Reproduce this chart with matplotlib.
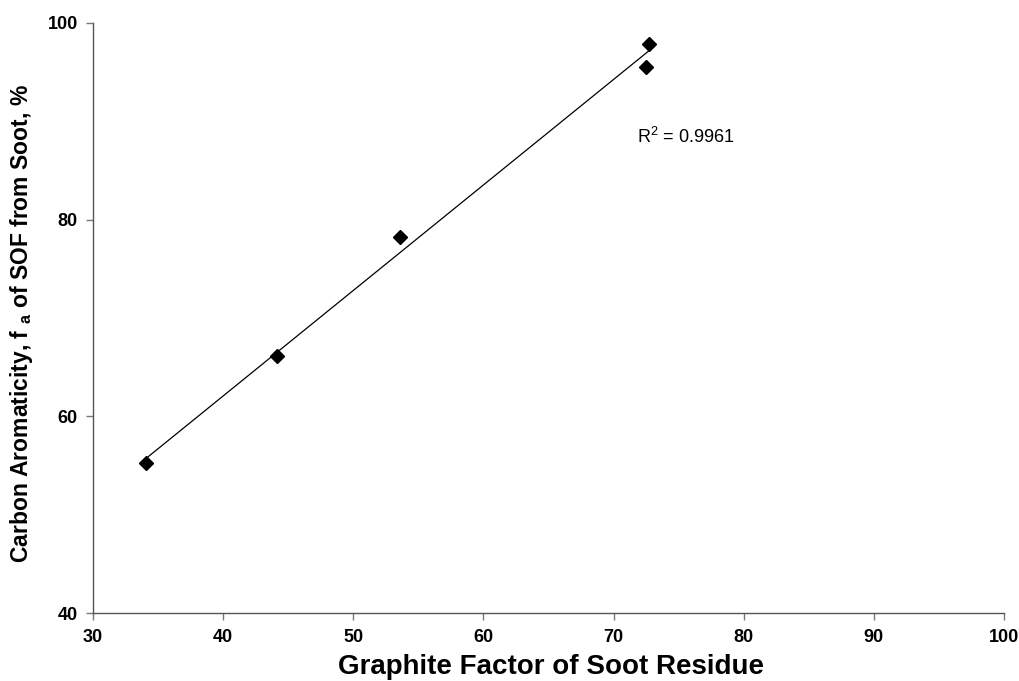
import numpy as np
import matplotlib
matplotlib.use("Agg")
import matplotlib.pyplot as plt

plt.rcParams['font.family'] = ['Liberation Sans', 'DejaVu Sans']
plt.rcParams['mathtext.fontset'] = 'custom'
plt.rcParams['mathtext.rm'] = 'Liberation Sans'
plt.rcParams['mathtext.bf'] = 'Liberation Sans:bold'

# data
graphite_factor = [34.1, 44.1, 53.6, 72.5, 72.7]
aromaticity = [55.3, 66.1, 78.2, 95.5, 97.9]
r2_label = "R$^2$ = 0.9961"

x_ticks = [30, 40, 50, 60, 70, 80, 90, 100]
y_ticks = [40, 60, 80, 100]

fig = plt.figure(figsize=(10.19, 6.81), dpi=100)
ax = fig.add_axes([0.0913, 0.0994, 0.894, 0.867])

# linear trend line over the data range
coef = np.polyfit(graphite_factor, aromaticity, 1)
xs = np.array([min(graphite_factor), max(graphite_factor)])
ax.plot(xs, np.polyval(coef, xs), color='black', linewidth=0.9, zorder=2)

ax.plot(graphite_factor, aromaticity, linestyle='none', marker='D',
        markersize=7.5, color='black', zorder=3)

ax.text(71.8, 88.4, r2_label, fontsize=13, ha='left', va='center')

ax.set_xlim(30, 100)
ax.set_ylim(40, 100)
ax.set_xticks(x_ticks)
ax.set_yticks(y_ticks)

for side in ['top', 'right']:
    ax.spines[side].set_visible(False)
for side in ['left', 'bottom']:
    ax.spines[side].set_color('#555555')
    ax.spines[side].set_linewidth(1.0)

ax.tick_params(axis='both', direction='out', length=5, width=1,
               color='#777777', labelsize=13, pad=6)
for lab in ax.get_xticklabels() + ax.get_yticklabels():
    lab.set_fontweight('bold')

ax.set_xlabel("Graphite Factor of Soot Residue", fontsize=20, fontweight='bold',
              va='center')
ax.xaxis.set_label_coords(0.503, -0.091)
ax.set_ylabel(r"Carbon Aromaticity, f $_{\mathbf{a}}$ of SOF from Soot, %",
              fontsize=16.5, fontweight='bold', va='center')
ax.yaxis.set_label_coords(-0.079, 0.4915)

plt.savefig("out.png", dpi=100)
